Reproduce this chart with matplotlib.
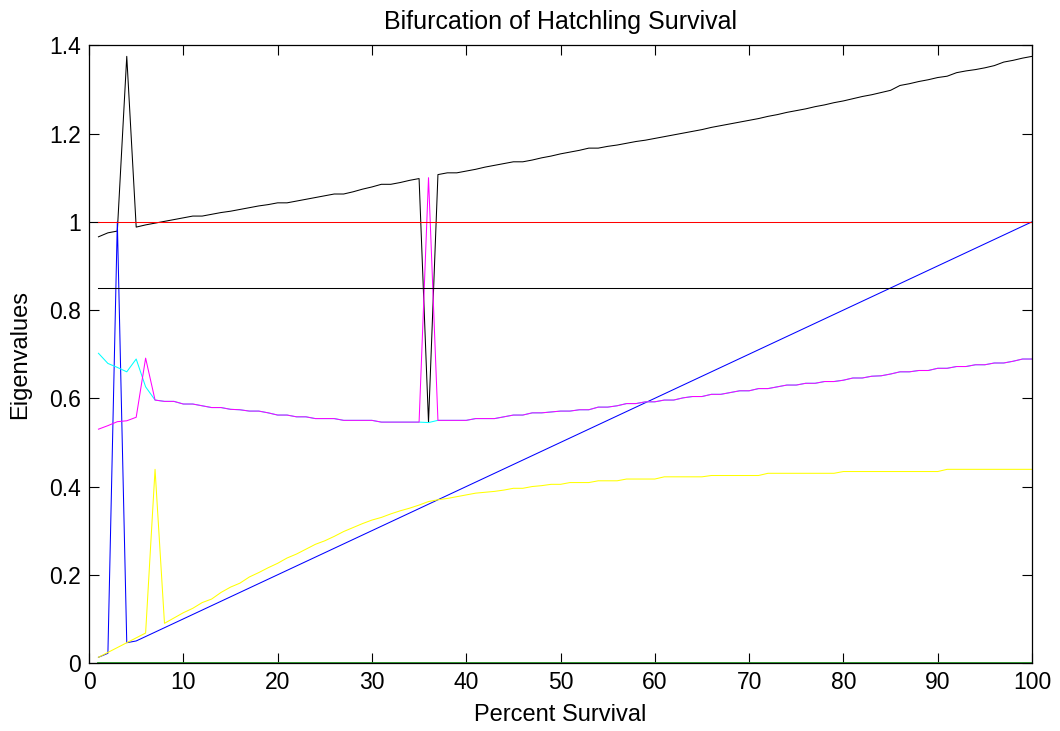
import numpy as np
import matplotlib
matplotlib.use("Agg")
import matplotlib.pyplot as plt

# percent survival, 1..100
survival = list(range(1, 101))

# eigenvalue curves
black = [0.966, 0.975, 0.979, 1.375, 0.988, 0.993, 0.997, 1.001, 1.005, 1.009,
         1.013, 1.013, 1.017, 1.021, 1.024, 1.028, 1.032, 1.036, 1.039, 1.043,
         1.043, 1.047, 1.051, 1.055, 1.059, 1.063, 1.063, 1.068, 1.074, 1.079,
         1.085, 1.085, 1.089, 1.094, 1.098, 0.545, 1.107, 1.111, 1.111, 1.115,
         1.119, 1.124, 1.128, 1.132, 1.136, 1.136, 1.140, 1.145, 1.149, 1.154,
         1.158, 1.162, 1.167, 1.167, 1.171, 1.174, 1.178, 1.182, 1.185, 1.189,
         1.193, 1.197, 1.201, 1.205, 1.209, 1.214, 1.218, 1.222, 1.226, 1.230,
         1.234, 1.239, 1.243, 1.248, 1.252, 1.256, 1.261, 1.265, 1.270, 1.274,
         1.279, 1.284, 1.288, 1.293, 1.298, 1.309, 1.313, 1.318, 1.322, 1.327,
         1.330, 1.338, 1.342, 1.345, 1.349, 1.354, 1.362, 1.366, 1.371, 1.375]

blue = [0.013, 0.022, 1.000, 0.046, 0.050, 0.060, 0.070, 0.080, 0.090, 0.100,
        0.110, 0.120, 0.130, 0.140, 0.150, 0.160, 0.170, 0.180, 0.190, 0.200,
        0.210, 0.220, 0.230, 0.240, 0.250, 0.260, 0.270, 0.280, 0.290, 0.300,
        0.310, 0.320, 0.330, 0.340, 0.350, 0.360, 0.370, 0.380, 0.390, 0.400,
        0.410, 0.420, 0.430, 0.440, 0.450, 0.460, 0.470, 0.480, 0.490, 0.500,
        0.510, 0.520, 0.530, 0.540, 0.550, 0.560, 0.570, 0.580, 0.590, 0.600,
        0.610, 0.620, 0.630, 0.640, 0.650, 0.660, 0.670, 0.680, 0.690, 0.700,
        0.710, 0.720, 0.730, 0.740, 0.750, 0.760, 0.770, 0.780, 0.790, 0.800,
        0.810, 0.820, 0.830, 0.840, 0.850, 0.860, 0.870, 0.880, 0.890, 0.900,
        0.910, 0.920, 0.930, 0.940, 0.950, 0.960, 0.970, 0.980, 0.990, 1.000]

magenta = [0.530, 0.538, 0.547, 0.549, 0.557, 0.691, 0.596, 0.593, 0.593, 0.587,
           0.587, 0.583, 0.579, 0.579, 0.575, 0.574, 0.571, 0.571, 0.567, 0.562,
           0.562, 0.558, 0.558, 0.554, 0.554, 0.554, 0.550, 0.550, 0.550, 0.550,
           0.546, 0.546, 0.546, 0.546, 0.546, 1.100, 0.550, 0.550, 0.550, 0.550,
           0.554, 0.554, 0.554, 0.558, 0.562, 0.562, 0.567, 0.567, 0.569, 0.571,
           0.571, 0.574, 0.574, 0.580, 0.580, 0.583, 0.588, 0.588, 0.592, 0.592,
           0.596, 0.596, 0.601, 0.604, 0.604, 0.609, 0.609, 0.613, 0.617, 0.617,
           0.622, 0.622, 0.626, 0.630, 0.630, 0.634, 0.634, 0.638, 0.638, 0.641,
           0.646, 0.646, 0.650, 0.651, 0.655, 0.660, 0.660, 0.663, 0.663, 0.668,
           0.668, 0.672, 0.672, 0.676, 0.676, 0.680, 0.680, 0.684, 0.689, 0.689]

# cyan sits under magenta except at the start and at x=36
cyan_start = [0.702, 0.679, 0.670, 0.660, 0.689, 0.626, 0.596]
cyan = cyan_start + magenta[7:35] + [0.545] + magenta[36:]

yellow = [0.013, 0.024, 0.035, 0.046, 0.057, 0.068, 0.439, 0.090, 0.102, 0.114,
          0.124, 0.137, 0.145, 0.160, 0.172, 0.181, 0.195, 0.205, 0.216, 0.226,
          0.238, 0.247, 0.258, 0.269, 0.277, 0.287, 0.298, 0.307, 0.316, 0.324,
          0.330, 0.338, 0.345, 0.351, 0.358, 0.366, 0.370, 0.373, 0.377, 0.381,
          0.385, 0.387, 0.389, 0.392, 0.396, 0.396, 0.400, 0.402, 0.405, 0.405,
          0.409, 0.409, 0.409, 0.413, 0.413, 0.413, 0.417, 0.417, 0.417, 0.417,
          0.422, 0.422, 0.422, 0.422, 0.422, 0.425, 0.425, 0.425, 0.425, 0.425,
          0.425, 0.430, 0.430, 0.430, 0.430, 0.430, 0.430, 0.430, 0.430, 0.434,
          0.434, 0.434, 0.434, 0.434, 0.434, 0.434, 0.434, 0.434, 0.434, 0.434,
          0.439, 0.439, 0.439, 0.439, 0.439, 0.439, 0.439, 0.439, 0.439, 0.439]

green = [0.0] * 100

# reference levels
level_one = 1.0
level_low = 0.85

plt.rcParams['font.family'] = ['Liberation Sans', 'DejaVu Sans']

fig = plt.figure(figsize=(10.6, 7.31), dpi=100)
ax = fig.add_axes([0.084, 0.093, 0.8896, 0.845])

lw = 0.75
ax.plot(survival, black, color='black', lw=lw)
ax.plot(survival, blue, color='blue', lw=lw)
ax.plot(survival, cyan, color='cyan', lw=lw)
ax.plot(survival, magenta, color='magenta', lw=lw)
ax.plot(survival, yellow, color='yellow', lw=lw)
ax.plot(survival, green, color='#1f9a1f', lw=2.0)
ax.plot(survival, [level_one] * len(survival), color='red', lw=lw)
ax.plot(survival, [level_low] * len(survival), color='black', lw=lw)

ax.set_xlim(0, 100)
ax.set_ylim(0, 1.4)
ax.set_xticks(np.arange(0, 101, 10))
yt = [0, 0.2, 0.4, 0.6, 0.8, 1.0, 1.2, 1.4]
ax.set_yticks(yt)
ax.set_yticklabels(['0', '0.2', '0.4', '0.6', '0.8', '1', '1.2', '1.4'])
ax.tick_params(direction='in', length=7, width=0.8, top=True, right=True,
               labelsize=16.5, pad=6)
for s in ax.spines.values():
    s.set_linewidth(0.9)

ax.set_title('Bifurcation of Hatchling Survival', fontsize=18, pad=12)
ax.set_xlabel('Percent Survival', fontsize=17, labelpad=7)
ax.set_ylabel('Eigenvalues', fontsize=17, labelpad=13)

fig.savefig('out.png', dpi=100)
